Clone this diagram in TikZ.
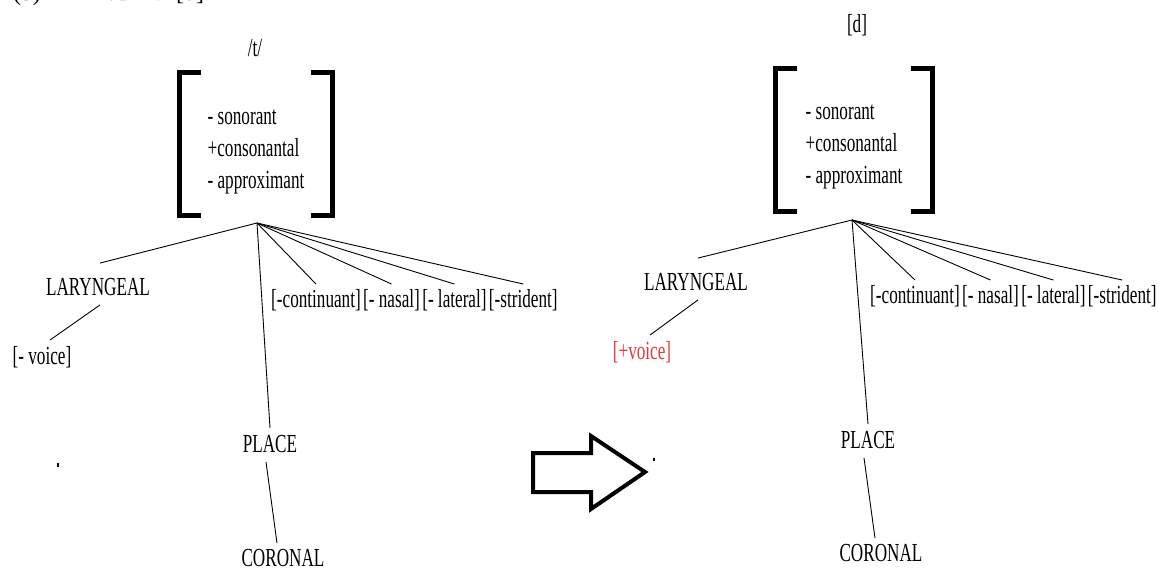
\documentclass[tikz,border=0pt]{standalone}
\usepackage{fontspec}
\setmainfont{Liberation Serif}[FakeStretch=0.66]
\newfontfamily\headfont{Liberation Serif}
\usetikzlibrary{positioning,calc}
\definecolor{voicered}{HTML}{E8383D}

\tikzset{
  featmat/.style={minimum width=152pt, minimum height=142pt, align=left, inner sep=0pt},
  brk/.style={line width=5pt},
  branch/.style={line width=0.9pt}
}

\begin{document}
\begin{tikzpicture}[x=1pt, y=-1pt, font=\fontsize{26}{32}\selectfont, every node/.style={inner sep=1pt}]
      \useasboundingbox (0,0) rectangle (1159,569);

      % cut-off heading line
      \begin{scope}
        \clip (0,0) rectangle (1159,12);
        \node (hnum) [anchor=base, font=\headfont\fontsize{24}{28}\selectfont] at (27,1) {(3)};
        \node (hfrom) [anchor=base, font=\headfont\fontsize{24}{28}\selectfont] at (121,1) {/t/};
        \node (harr) [anchor=base, font=\headfont\fontsize{24}{28}\selectfont] at (153,1) {$\rightarrow$};
        \node (hto) [anchor=base, font=\headfont\fontsize{24}{28}\selectfont] at (190,1) {[d]};
      \end{scope}

      % underlying /t/
      \node (tsym) at (255,48) {/t/};
      \node (tmat) [featmat] at (256,152) {- sonorant\\+consonantal\\- approximant};
      \draw [brk] ([shift={(21,-8)}]tmat.north west) -- ([shift={(0,-8)}]tmat.north west) -- ([shift={(0,-8)}]tmat.south west) -- ([shift={(21,-8)}]tmat.south west);
      \draw [brk] ([shift={(-21,-8)}]tmat.north east) -- ([shift={(0,-8)}]tmat.north east) -- ([shift={(0,-8)}]tmat.south east) -- ([shift={(-21,-8)}]tmat.south east);
      \coordinate (troot) at (257,223);
      \node (tlar) at (98,287) {LARYNGEAL};
      \node (tvoice) at (42,357) {[- voice]};
      \node (tcont) at (316,300) {[-continuant]};
      \node (tnas) [right=0pt of tcont] {[- nasal]};
      \node (tlat) [right=0pt of tnas] {[- lateral]};
      \node (tstr) [right=0pt of tlat] {[-strident]};
      \node (tplace) at (270,444) {PLACE};
      \node (tcor) at (283,558) {CORONAL};

      \draw [branch] (troot) -- ($(tlar.north)+(2,-14)$);
      \draw [branch] ($(tlar.south)+(2,8)$) -- ($(tvoice.north)+(8,-5)$);
      \foreach \f in {tcont,tnas,tlat,tstr}
        \draw [branch] (troot) -- ($(\f.north)+(0,-4)$);
      \draw [branch] (troot) -- ($(tplace.north)+(0,-6)$);
      \draw [branch] ($(tplace.south)+(-4,8)$) -- ($(tcor.north)+(-6,-5)$);
      \fill (57,463) rectangle (59,467);

      % the change
      \draw [line width=4pt, line join=miter] (533,453) -- (591,453) -- (591,436) -- (645,472) -- (591,509) -- (591,492) -- (533,492) -- cycle;
      \fill (653,458) rectangle (655,461);

      % surface [d]
      \node (rsym) at (857,25) {[d]};
      \node (rmat) [featmat, minimum width=156pt, minimum height=143pt] at (854,147) {- sonorant\\+consonantal\\- approximant};
      \draw [brk] ([shift={(21,-7)}]rmat.north west) -- ([shift={(0,-7)}]rmat.north west) -- ([shift={(0,-7)}]rmat.south west) -- ([shift={(21,-7)}]rmat.south west);
      \draw [brk] ([shift={(-21,-7)}]rmat.north east) -- ([shift={(0,-7)}]rmat.north east) -- ([shift={(0,-7)}]rmat.south east) -- ([shift={(-21,-7)}]rmat.south east);
      \coordinate (rroot) at (852,220);
      \node (rlar) at (696,282) {LARYNGEAL};
      \node (rvoice) [text=voicered] at (642,352) {[+voice]};
      \node (rcont) at (915,296) {[-continuant]};
      \node (rnas) [right=0pt of rcont] {[- nasal]};
      \node (rlat) [right=0pt of rnas] {[- lateral]};
      \node (rstr) [right=0pt of rlat] {[-strident]};
      \node (rplace) at (868,440) {PLACE};
      \node (rcor) at (881,553) {CORONAL};

      \draw [branch] (rroot) -- ($(rlar.north)+(2,-14)$);
      \draw [branch] ($(rlar.south)+(2,8)$) -- ($(rvoice.north)+(8,-5)$);
      \foreach \f in {rcont,rnas,rlat,rstr}
        \draw [branch] (rroot) -- ($(\f.north)+(0,-4)$);
      \draw [branch] (rroot) -- ($(rplace.north)+(0,-6)$);
      \draw [branch] ($(rplace.south)+(-4,8)$) -- ($(rcor.north)+(-6,-5)$);
    \end{tikzpicture}
\end{document}
